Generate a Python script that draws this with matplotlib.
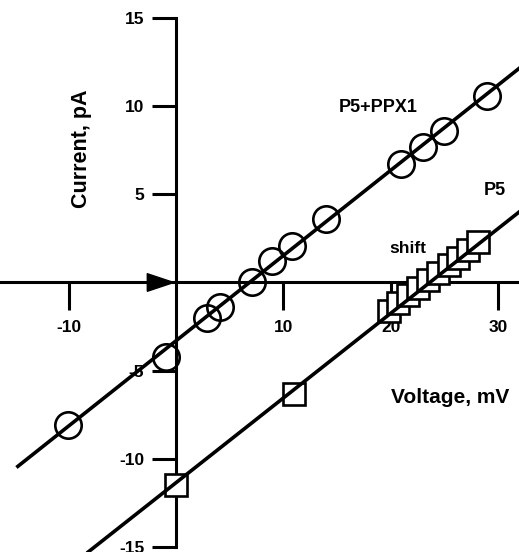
import numpy as np
import matplotlib
matplotlib.use("Agg")
import matplotlib.pyplot as plt

plt.rcParams['font.family'] = ['Liberation Sans', 'DejaVu Sans']

# Data: P5 + PPX1 (circles)
ppx_voltage = [-10.1, -0.98, 2.85, 4.06, 7.04, 8.9, 10.8, 14.0, 21.0, 23.0, 25.0, 29.0]
ppx_current = [-8.07, -4.23, -1.99, -1.42, 0.0, 1.19, 2.05, 3.58, 6.7, 7.67, 8.58, 10.57]

# Data: P5 (squares)
p5_voltage = [0.0, 11.0, 19.8, 20.7, 21.6, 22.5, 23.5, 24.4, 25.4, 26.3, 27.2, 28.1]
p5_current = [-11.48, -6.34, -1.6, -1.17, -0.74, -0.31, 0.12, 0.55, 0.98, 1.41, 1.84, 2.27]

# linear fit parameters (slope pA/mV, intercept pA)
ppx_fit = (0.483, -3.3)
p5_fit = (0.48, -11.35)

# fitted line extents (mV)
ppx_line_range = [-14.9, 33.0]
p5_line_range = [-8.5, 33.0]

x_ticks = [-10, 10, 20, 30]
x_ticklabels = ['-10', '10', '20', '30']
y_ticks = [-15, -10, -5, 5, 10, 15]
y_ticklabels = ['-15', '-10', '-5', '5', '10', '15']

arrow_pos = (-1.55, 0.0)

fig = plt.figure(figsize=(5.19, 5.52), dpi=100)
ax = fig.add_axes([0, 0, 1, 1])
ax.set_xlim(-16.43, 31.96)
ax.set_ylim(-15.29, 16.02)

for s in ['top', 'right']:
    ax.spines[s].set_visible(False)
ax.spines['left'].set_position(('data', 0))
ax.spines['bottom'].set_position(('data', 0))
ax.spines['left'].set_bounds(-15, 15)
for s in ['left', 'bottom']:
    ax.spines[s].set_linewidth(2.2)
    ax.spines[s].set_color('black')

ax.set_xticks(x_ticks)
ax.set_xticklabels(x_ticklabels)
ax.set_yticks(y_ticks)
ax.set_yticklabels(y_ticklabels)
ax.tick_params(axis='x', direction='out', length=20, width=2.2, pad=7,
               labelsize=12.5)
ax.tick_params(axis='y', direction='out', length=17, width=2.2, pad=6,
               labelsize=12.5)
for lab in ax.get_xticklabels() + ax.get_yticklabels():
    lab.set_fontweight('bold')

# fit lines
lw_fit = 2.6
v1 = np.array(ppx_line_range)
ax.plot(v1, ppx_fit[0] * v1 + ppx_fit[1], color='black', lw=lw_fit, zorder=5,
        solid_capstyle='butt')
v2 = np.array(p5_line_range)
ax.plot(v2, p5_fit[0] * v2 + p5_fit[1], color='black', lw=lw_fit, zorder=5,
        solid_capstyle='butt')

# markers
ax.plot(ppx_voltage, ppx_current, linestyle='none', marker='o',
        markersize=19, markerfacecolor='none', markeredgecolor='black',
        markeredgewidth=1.9, zorder=4, clip_on=False)
ax.plot(p5_voltage, p5_current, linestyle='none', marker='s',
        markersize=16, markerfacecolor='white', markeredgecolor='black',
        markeredgewidth=1.9, zorder=4, clip_on=False)

# arrow marker on the x axis
tri = [(-1.5, -1.0), (1.5, 0.0), (-1.5, 1.0), (-1.5, -1.0)]
ax.plot([arrow_pos[0]], [arrow_pos[1]], linestyle='none', marker=tri,
        markersize=19, color='black', zorder=3)

# texts
ax.text(18.8, 9.94, 'P5+PPX1', ha='center', va='center', fontsize=13,
        fontweight='bold')
ax.text(29.7, 5.23, 'P5', ha='center', va='center', fontsize=13,
        fontweight='bold')
ax.text(21.6, 1.93, 'shift', ha='center', va='center', fontsize=12.5,
        fontweight='bold')
ax.text(25.5, -6.53, 'Voltage, mV', ha='center', va='center', fontsize=15,
        fontweight='bold')
ax.text(-8.8, 7.56, 'Current, pA', ha='center', va='center', fontsize=15.5,
        fontweight='bold', rotation=90)

fig.savefig('out.png', dpi=100)
